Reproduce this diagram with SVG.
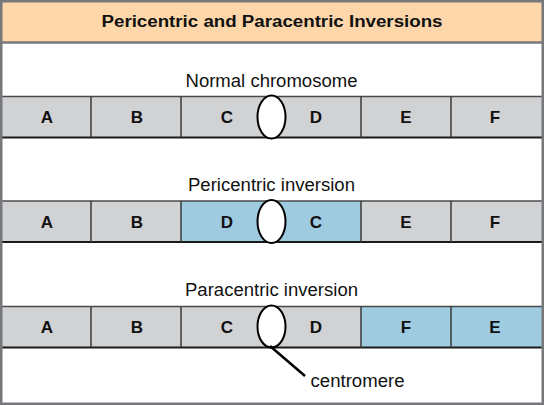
<svg xmlns="http://www.w3.org/2000/svg" width="544" height="405" viewBox="0 0 544 405">
<style>
.bg{fill:#ffffff}
.grey{fill:#d1d2d4}
.blue{fill:#9fcbe0}
.top{stroke:#4a4a4a;stroke-width:1.5;fill:none}
.bot{stroke:#1a1a1a;stroke-width:2;fill:none}
.div{stroke:#3a3a3a;stroke-width:1.5;fill:none}
.cen{fill:#ffffff;stroke:#000000;stroke-width:2}
.lt{font-family:"Liberation Sans",Arial,sans-serif;font-weight:bold;font-size:17px;fill:#111111;text-anchor:middle}
.lab{font-family:"Liberation Sans",Arial,sans-serif;font-size:17.5px;fill:#111111;text-anchor:middle}
.title{font-family:"Liberation Sans",Arial,sans-serif;font-weight:bold;font-size:16px;fill:#111111;text-anchor:middle}
</style>
<rect x="0" y="0" width="544" height="405" fill="#ffffff"/>
<g id="header">
<rect x="0" y="0" width="544" height="42.5" fill="#fdd6a9"/>
<line x1="0" y1="42.5" x2="544" y2="42.5" stroke="#77787b" stroke-width="2.5"/>
<text class="title" x="272" y="27" textLength="341" lengthAdjust="spacingAndGlyphs">Pericentric and Paracentric Inversions</text>
</g>
<g id="normal">
<text class="lab" x="271.5" y="86.5" textLength="172" lengthAdjust="spacingAndGlyphs">Normal chromosome</text>
<rect class="grey" x="0" y="96.5" width="544" height="41"/>
<line class="top" x1="0" y1="96.5" x2="544" y2="96.5"/>
<line class="bot" x1="0" y1="137.5" x2="544" y2="137.5"/>
<line class="div" x1="91" y1="96.5" x2="91" y2="137.5"/>
<line class="div" x1="181" y1="96.5" x2="181" y2="137.5"/>
<line class="div" x1="361" y1="96.5" x2="361" y2="137.5"/>
<line class="div" x1="451" y1="96.5" x2="451" y2="137.5"/>
<text class="lt" x="47" y="123">A</text>
<text class="lt" x="137" y="123">B</text>
<text class="lt" x="227" y="123">C</text>
<text class="lt" x="316" y="123">D</text>
<text class="lt" x="406" y="123">E</text>
<text class="lt" x="495" y="123">F</text>
<ellipse class="cen" cx="271.5" cy="117" rx="14" ry="21.5"/>
</g>
<g id="pericentric">
<text class="lab" x="271.5" y="190.7" textLength="167" lengthAdjust="spacingAndGlyphs">Pericentric inversion</text>
<rect class="grey" x="0" y="201" width="544" height="41"/>
<rect class="blue" x="181" y="201" width="180" height="41"/>
<line class="top" x1="0" y1="201" x2="544" y2="201"/>
<line class="bot" x1="0" y1="242" x2="544" y2="242"/>
<line class="div" x1="91" y1="201" x2="91" y2="242"/>
<line class="div" x1="181" y1="201" x2="181" y2="242"/>
<line class="div" x1="361" y1="201" x2="361" y2="242"/>
<line class="div" x1="451" y1="201" x2="451" y2="242"/>
<text class="lt" x="47" y="227.5">A</text>
<text class="lt" x="137" y="227.5">B</text>
<text class="lt" x="227" y="227.5">D</text>
<text class="lt" x="316" y="227.5">C</text>
<text class="lt" x="406" y="227.5">E</text>
<text class="lt" x="495" y="227.5">F</text>
<ellipse class="cen" cx="271.5" cy="221.5" rx="14" ry="21.5"/>
</g>
<g id="paracentric">
<text class="lab" x="271.5" y="296" textLength="173" lengthAdjust="spacingAndGlyphs">Paracentric inversion</text>
<rect class="grey" x="0" y="306.5" width="544" height="41"/>
<rect class="blue" x="361" y="306.5" width="183" height="41"/>
<line class="top" x1="0" y1="306.5" x2="544" y2="306.5"/>
<line class="bot" x1="0" y1="347.5" x2="544" y2="347.5"/>
<line class="div" x1="91" y1="306.5" x2="91" y2="347.5"/>
<line class="div" x1="181" y1="306.5" x2="181" y2="347.5"/>
<line class="div" x1="361" y1="306.5" x2="361" y2="347.5"/>
<line class="div" x1="451" y1="306.5" x2="451" y2="347.5"/>
<text class="lt" x="47" y="333">A</text>
<text class="lt" x="137" y="333">B</text>
<text class="lt" x="227" y="333">C</text>
<text class="lt" x="316" y="333">D</text>
<text class="lt" x="406" y="333">F</text>
<text class="lt" x="495" y="333">E</text>
<ellipse class="cen" cx="271.5" cy="326.5" rx="14" ry="21"/>
</g>
<g id="connectors">
<line x1="270" y1="346" x2="305" y2="376" stroke="#000000" stroke-width="2.5"/>
</g>
<g id="centromere-label">
<text class="lab" x="310.5" y="386.5" style="text-anchor:start" textLength="94" lengthAdjust="spacingAndGlyphs">centromere</text>
</g>
<rect x="1.25" y="1.25" width="541.5" height="402.5" fill="none" stroke="#77787b" stroke-width="2.5"/>
</svg>
